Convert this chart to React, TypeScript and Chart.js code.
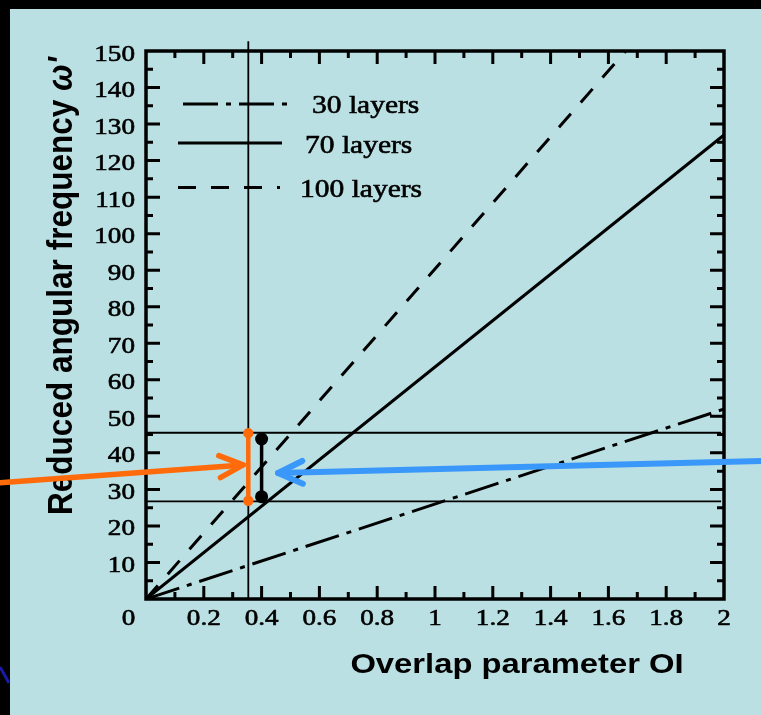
import React, { useEffect, useRef } from 'react';
import { Chart, registerables } from 'chart.js';

Chart.register(...registerables);

// ---- data ----
const seriesLabels = ['30 layers', '70 layers', '100 layers'];
const line30X = [0, 2];
const line30Y = [0, 52];
const line70X = [0, 2];
const line70Y = [0, 127];
const line100X = [0, 1.66];
const line100Y = [0, 150];

const markerLineX = [0.354, 0.354];
const markerLineY = [0, 152.7];
const bandX = [0, 1.99];
const bandHighY = [45.5, 45.5];
const bandLowY = [26.7, 26.7];
const orangeX = [0.354, 0.354];
const orangeY = [45.4, 26.9];
const blackX = [0.4, 0.4];
const blackY = [43.8, 28.0];

const orangeArrowX = [-0.505, 0.336];
const orangeArrowY = [31.8, 36.7];
const blueArrowX = [2.128, 0.457];
const blueArrowY = [37.8, 34.5];

const xTickValues = [0.2, 0.4, 0.6, 0.8, 1, 1.2, 1.4, 1.6, 1.8, 2];
const xTickLabels = ['0.2', '0.4', '0.6', '0.8', '1', '1.2', '1.4', '1.6', '1.8', '2'];
const yTickValues = [10, 20, 30, 40, 50, 60, 70, 80, 90, 100, 110, 120, 130, 140, 150];
const yTickLabels = ['10', '20', '30', '40', '50', '60', '70', '80', '90', '100', '110', '120', '130', '140', '150'];
const originLabel = '0';
const xTitle = 'Overlap parameter OI';
const yTitleMain = 'Reduced angular frequency ';
const yTitleSymbol = "\u03C9'";

// ---- styles ----
const ORANGE = '#ff6a0a';
const BLUE = '#3a98fa';
const PANEL = '#bbe0e3';
const DASH_DOT = [35, 8, 5, 8];
const DASHED = [18, 15];
const SERIF = '"Liberation Serif", "Times New Roman", serif';
const SANS = '"Liberation Sans", Arial, sans-serif';
const SX = 1.18;

const pts = (xs: number[], ys: number[]) => xs.map((x, i) => ({ x, y: ys[i] }));

function stretchText(ctx: CanvasRenderingContext2D, s: string, x: number, y: number, font: string, align: CanvasTextAlign, sx = SX, weight = 0.6) {
  ctx.save();
  ctx.translate(x, y);
  ctx.scale(sx, 1);
  ctx.font = font;
  ctx.textAlign = align;
  ctx.textBaseline = 'alphabetic';
  ctx.fillStyle = '#000';
  ctx.fillText(s, 0, 0);
  if (weight > 0) {
    ctx.strokeStyle = '#000';
    ctx.lineWidth = weight;
    ctx.setLineDash([]);
    ctx.strokeText(s, 0, 0);
  }
  ctx.restore();
}

function arrow(ctx: CanvasRenderingContext2D, x0: number, y0: number, x1: number, y1: number, color: string, width: number, head: number) {
  ctx.save();
  ctx.strokeStyle = color;
  ctx.lineWidth = width;
  ctx.lineCap = 'round';
  ctx.lineJoin = 'round';
  ctx.setLineDash([]);
  ctx.beginPath();
  ctx.moveTo(x0, y0);
  ctx.lineTo(x1, y1);
  ctx.stroke();
  const a = Math.atan2(y0 - y1, x0 - x1);
  const sp = (25 * Math.PI) / 180;
  ctx.beginPath();
  ctx.moveTo(x1 + head * Math.cos(a + sp), y1 + head * Math.sin(a + sp));
  ctx.lineTo(x1, y1);
  ctx.lineTo(x1 + head * Math.cos(a - sp), y1 + head * Math.sin(a - sp));
  ctx.stroke();
  ctx.restore();
}

const decorPlugin = {
  id: 'decor',
  beforeDraw(chart: any) {
    const ctx: CanvasRenderingContext2D = chart.ctx;
    ctx.save();
    ctx.fillStyle = '#000';
    ctx.fillRect(0, 0, chart.width, chart.height);
    ctx.fillStyle = PANEL;
    ctx.fillRect(10, 9, chart.width - 10, chart.height - 9);
    ctx.strokeStyle = '#1a1aa8';
    ctx.lineWidth = 3;
    ctx.beginPath();
    ctx.moveTo(0, 667);
    ctx.lineTo(9, 683);
    ctx.stroke();
    ctx.restore();
  },
  afterDatasetsDraw(chart: any) {
    const ctx: CanvasRenderingContext2D = chart.ctx;
    const xs = chart.scales.x;
    const ys = chart.scales.y;
    const { left, right, top, bottom } = chart.chartArea;
    ctx.save();
    ctx.setLineDash([]);
    ctx.strokeStyle = '#000';
    // inward ticks on all four sides
    ctx.lineWidth = 3;
    ctx.beginPath();
    for (let i = 1; i < 20; i++) {
      const px = xs.getPixelForValue(i / 10);
      const len = i % 2 === 0 ? 13 : 7;
      ctx.moveTo(px, bottom);
      ctx.lineTo(px, bottom - len);
      ctx.moveTo(px, top);
      ctx.lineTo(px, top + len);
    }
    for (let i = 1; i < 30; i++) {
      const py = ys.getPixelForValue(i * 5);
      const len = i % 2 === 0 ? 14 : 7;
      ctx.moveTo(left, py);
      ctx.lineTo(left + len, py);
      ctx.moveTo(right, py);
      ctx.lineTo(right - len, py);
    }
    ctx.stroke();
    // frame
    ctx.lineWidth = 3.5;
    ctx.strokeRect(left, top, right - left, bottom - top);
    ctx.restore();

    // tick labels
    const tickFont = `23px ${SERIF}`;
    xTickValues.forEach((v, i) => stretchText(ctx, xTickLabels[i], xs.getPixelForValue(v), bottom + 26, tickFont, 'center'));
    yTickValues.forEach((v, i) => stretchText(ctx, yTickLabels[i], left - 11, ys.getPixelForValue(v) + 9.5, tickFont, 'right'));
    stretchText(ctx, originLabel, left - 17.5, bottom + 26, tickFont, 'center');

    // legend
    const legendFont = `25px ${SERIF}`;
    const rows = [
      { dash: DASH_DOT, x0: 183, x1: 287, y: 104, tx: 312, ty: 113 },
      { dash: [] as number[], x0: 178, x1: 282, y: 143, tx: 305, ty: 152.5 },
      { dash: DASHED, x0: 178, x1: 280, y: 187.5, tx: 300, ty: 196.5 },
    ];
    rows.forEach((r, i) => {
      ctx.save();
      ctx.strokeStyle = '#000';
      ctx.lineWidth = 3.2;
      ctx.setLineDash(r.dash);
      ctx.beginPath();
      ctx.moveTo(r.x0, r.y);
      ctx.lineTo(r.x1, r.y);
      ctx.stroke();
      ctx.restore();
      stretchText(ctx, seriesLabels[i], r.tx, r.ty, legendFont, 'left');
    });

    // axis titles
    stretchText(ctx, xTitle, 517, 673, `bold 28px ${SANS}`, 'center', 1.17, 0);
    ctx.save();
    ctx.fillStyle = '#000';
    ctx.translate(71.5, 286);
    ctx.scale(SX, 1);
    ctx.rotate(-Math.PI / 2);
    const fMain = `bold 30px ${SANS}`;
    const fSym = `italic bold 30px ${SANS}`;
    ctx.font = fMain;
    const w1 = ctx.measureText(yTitleMain).width;
    ctx.font = fSym;
    const w2 = ctx.measureText(yTitleSymbol).width;
    const total = w1 + w2;
    ctx.scale(458 / total, 1);
    ctx.textAlign = 'left';
    ctx.textBaseline = 'alphabetic';
    ctx.font = fMain;
    ctx.fillText(yTitleMain, -total / 2, 0);
    ctx.font = fSym;
    ctx.fillText(yTitleSymbol, -total / 2 + w1, 0);
    ctx.restore();
  },
  afterDraw(chart: any) {
    const ctx: CanvasRenderingContext2D = chart.ctx;
    const xs = chart.scales.x;
    const ys = chart.scales.y;
    arrow(ctx, xs.getPixelForValue(orangeArrowX[0]), ys.getPixelForValue(orangeArrowY[0]), xs.getPixelForValue(orangeArrowX[1]), ys.getPixelForValue(orangeArrowY[1]), ORANGE, 5.5, 26);
    arrow(ctx, xs.getPixelForValue(blueArrowX[0]), ys.getPixelForValue(blueArrowY[0]), xs.getPixelForValue(blueArrowX[1]), ys.getPixelForValue(blueArrowY[1]), BLUE, 6, 27);
  },
};

export default function App() {
  const ref = useRef<HTMLCanvasElement | null>(null);
  useEffect(() => {
    if (!ref.current) return;
    const lineBase = { pointRadius: 0, tension: 0, fill: false, borderCapStyle: 'butt' as const };
    const chart = new Chart(ref.current, {
      type: 'line',
      data: {
        datasets: [
          { label: 'orange', data: pts(orangeX, orangeY), borderColor: ORANGE, backgroundColor: ORANGE, borderWidth: 4.5, pointRadius: 5.2, pointBackgroundColor: ORANGE, pointBorderColor: ORANGE, pointBorderWidth: 0, fill: false } as any,
          { label: 'black', data: pts(blackX, blackY), borderColor: '#000', backgroundColor: '#000', borderWidth: 3.5, pointRadius: 6.5, pointBackgroundColor: '#000', pointBorderColor: '#000', pointBorderWidth: 0, fill: false } as any,
          { ...lineBase, label: seriesLabels[0], data: pts(line30X, line30Y), borderColor: '#000', borderWidth: 3, borderDash: DASH_DOT } as any,
          { ...lineBase, label: seriesLabels[1], data: pts(line70X, line70Y), borderColor: '#000', borderWidth: 3 } as any,
          { ...lineBase, label: seriesLabels[2], data: pts(line100X, line100Y), borderColor: '#000', borderWidth: 3, borderDash: DASHED } as any,
          { ...lineBase, label: 'marker', data: pts(markerLineX, markerLineY), borderColor: '#000', borderWidth: 1.8, clip: false } as any,
          { ...lineBase, label: 'band high', data: pts(bandX, bandHighY), borderColor: '#000', borderWidth: 1.8 } as any,
          { ...lineBase, label: 'band low', data: pts(bandX, bandLowY), borderColor: '#000', borderWidth: 1.8 } as any,
        ],
      },
      options: {
        responsive: false,
        animation: false,
        events: [],
        layout: { padding: { left: 0, top: 51, right: 37, bottom: 0 } },
        plugins: { legend: { display: false }, tooltip: { enabled: false }, title: { display: false } },
        scales: {
          x: {
            type: 'linear', min: 0, max: 2,
            grid: { display: false }, border: { display: false }, ticks: { display: false },
            afterFit: (s: any) => { s.height = 116; },
          },
          y: {
            type: 'linear', min: 0, max: 150,
            grid: { display: false }, border: { display: false }, ticks: { display: false },
            afterFit: (s: any) => { s.width = 146; },
          },
        },
      } as any,
      plugins: [decorPlugin],
    });
    return () => chart.destroy();
  }, []);
  return (
    <div style={{ position: 'fixed', left: 0, top: 0, width: 761, height: 715 }}>
      <canvas ref={ref} width={761} height={715} style={{ display: 'block', width: 761, height: 715 }} />
    </div>
  );
}
